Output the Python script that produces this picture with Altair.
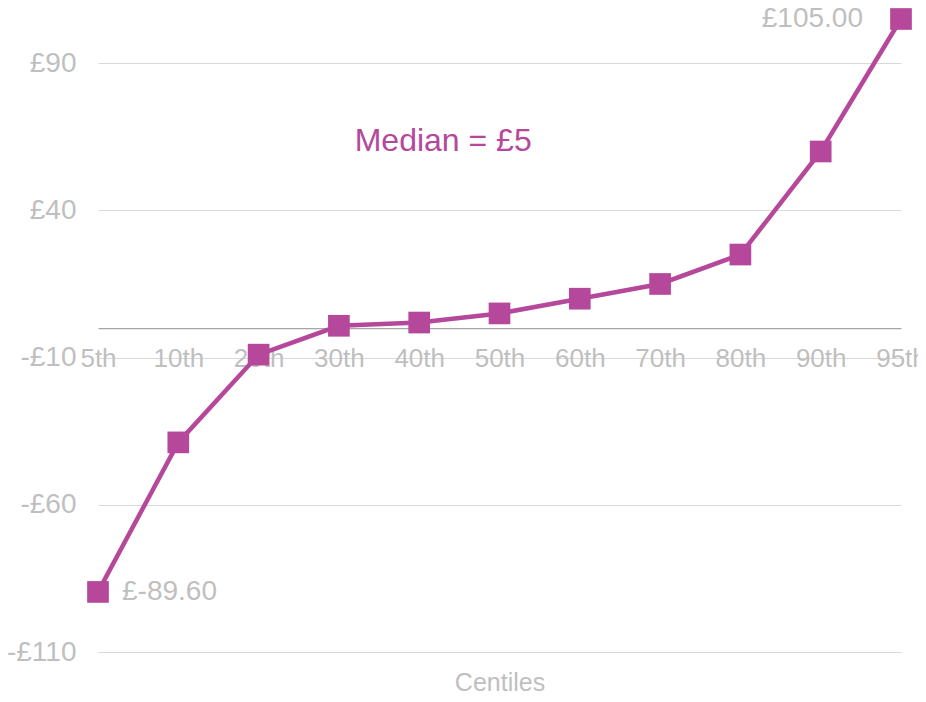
import altair as alt
import pandas as pd

centiles = ["5th", "10th", "20th", "30th", "40th", "50th", "60th", "70th", "80th", "90th", "95th"]
values = [-89.6, -38.8, -9.0, 0.8, 1.9, 5.0, 10.0, 15.0, 25.0, 60.0, 105.0]
point_labels = ["£-89.60", "", "", "", "", "", "", "", "", "", "£105.00"]
y_ticks = [-110, -60, -10, 40, 90]

df = pd.DataFrame({"centile": centiles, "value": values, "label": point_labels})

PURPLE = "#B5489B"
GREY = "#BFBFBF"
FONT = "Liberation Sans"

W, H = 803, 633
YMIN, YMAX = -110, 105
zero_px = H * (YMAX - 0) / (YMAX - YMIN)
axis_offset = zero_px - H

x_enc = alt.X(
    "centile:N",
    sort=centiles,
    scale=alt.Scale(type="point", padding=0),
    axis=alt.Axis(
        title="Centiles",
        labelAngle=0,
        ticks=False,
        grid=False,
        domain=True,
        domainColor="#A6A6A6",
        domainWidth=1.2,
        labelColor=GREY,
        labelFont=FONT,
        labelFontSize=26,
        labelPadding=17,
        labelOverlap=False,
        labelFlush=False,
        offset=axis_offset,
        titleColor=GREY,
        titleFont=FONT,
        titleFontSize=25,
        titleFontWeight="normal",
        titleY=H - zero_px + 30,
        titleBaseline="middle",
    ),
)
y_enc = alt.Y(
    "value:Q",
    scale=alt.Scale(domain=[YMIN, YMAX], nice=False, zero=False),
    axis=alt.Axis(
        title=None,
        values=y_ticks,
        format="d",
        labelExpr="datum.value < 0 ? '-£' + abs(datum.value) : '£' + datum.value",
        ticks=False,
        domain=False,
        grid=True,
        gridColor="#D9D9D9",
        gridWidth=1.2,
        labelColor=GREY,
        labelFont=FONT,
        labelFontSize=28,
        labelPadding=22,
    ),
)

base = alt.Chart(df)

line = base.mark_line(color=PURPLE, strokeWidth=4.5).encode(x=x_enc, y=y_enc)
points = base.mark_point(shape="square", filled=True, size=470, color=PURPLE, opacity=1).encode(
    x=alt.X("centile:N", sort=centiles), y="value:Q"
)
lab_first = base.transform_filter(alt.datum.centile == "5th").mark_text(
    align="left", baseline="middle", dx=24, font=FONT, fontSize=28, color=GREY
).encode(x=alt.X("centile:N", sort=centiles), y="value:Q", text="label:N")
lab_last = base.transform_filter(alt.datum.centile == "95th").mark_text(
    align="right", baseline="middle", dx=-38, font=FONT, fontSize=28, color=GREY
).encode(x=alt.X("centile:N", sort=centiles), y="value:Q", text="label:N")
median = alt.Chart(pd.DataFrame({"t": ["Median = £5"]})).mark_text(
    align="center", baseline="middle", dx=24, font=FONT, fontSize=32, color=PURPLE
).encode(x=alt.datum("40th"), y=alt.datum(63.5), text="t:N")

chart = (
    alt.layer(line, points, lab_first, lab_last, median)
    .properties(
        width=W,
        height=H,
        autosize=alt.AutoSizeParams(type="none"),
        padding={"left": 90, "top": 11, "right": 17, "bottom": 42},
    )
    .configure_view(stroke=None)
)

chart.save("out.html", embed_options={"renderer": "svg", "actions": False})
